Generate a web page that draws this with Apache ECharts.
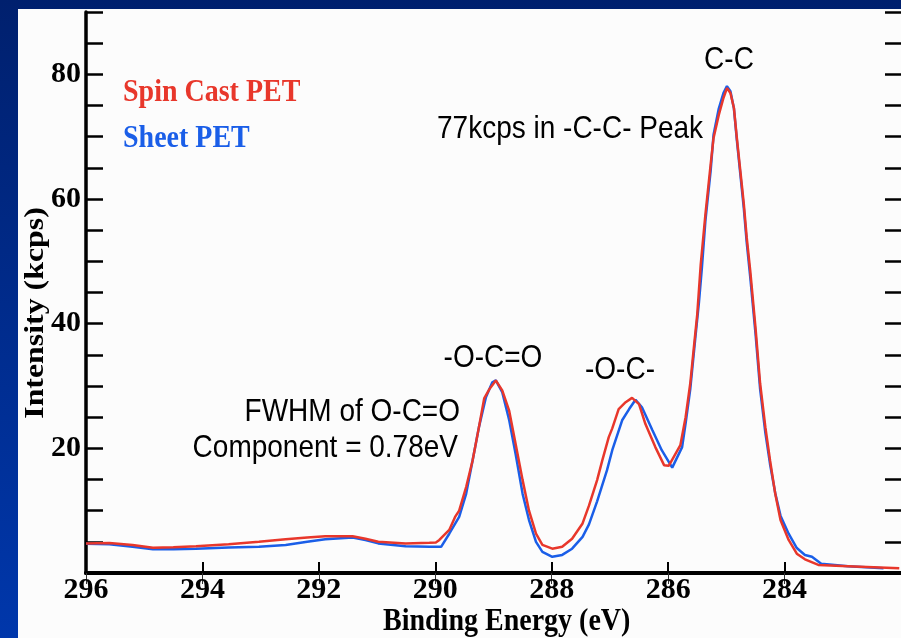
<!DOCTYPE html>
<html>
<head>
<meta charset="utf-8">
<script src="https://cdn.jsdelivr.net/npm/echarts@6/dist/echarts.min.js"></script>
<style>
html, body { margin: 0; padding: 0; }
body { width: 901px; height: 638px; background: linear-gradient(#00206e, #0037ab); overflow: hidden; position: relative; }
#panel { position: absolute; left: 18px; top: 9px; width: 883px; height: 629px; background: #fcfcfc; }
#mycharts { position: absolute; left: 0; top: 0; width: 901px; height: 638px; }
</style>
</head>
<body>
<div id="panel"></div>
<div id="mycharts"></div>
<script>
// 结合能 (eV) 与强度 (kcps)
var spinCastEv = [296.0, 295.6, 295.2, 294.85, 294.5, 294.11, 293.55, 293.03, 292.57, 292.2, 291.89, 291.42, 291.2, 290.98, 290.51, 290.1, 289.99, 289.93, 289.76, 289.66, 289.59, 289.47, 289.36, 289.25, 289.16, 289.07, 288.96, 288.85, 288.73, 288.62, 288.5, 288.39, 288.27, 288.16, 287.99, 287.82, 287.65, 287.47, 287.36, 287.22, 287.13, 287.02, 286.96, 286.85, 286.73, 286.62, 286.5, 286.39, 286.22, 286.07, 285.99, 285.79, 285.7, 285.62, 285.56, 285.5, 285.44, 285.36, 285.27, 285.22, 285.13, 285.05, 284.99, 284.93, 284.87, 284.82, 284.76, 284.7, 284.65, 284.59, 284.5, 284.42, 284.33, 284.25, 284.16, 284.07, 283.93, 283.79, 283.65, 283.42, 282.91, 282.03];
var spinCastKcps = [4.75, 4.8, 4.5, 4.05, 4.15, 4.3, 4.6, 5.0, 5.4, 5.7, 5.9, 5.9, 5.5, 5.0, 4.75, 4.85, 4.9, 5.3, 6.9, 9.0, 10.0, 13.8, 18.0, 23.4, 28.0, 29.5, 30.9, 29.3, 26.0, 20.7, 14.9, 10.0, 6.3, 4.5, 3.9, 4.2, 5.5, 7.95, 10.8, 14.9, 18.1, 21.8, 23.2, 26.3, 27.4, 28.1, 27.1, 23.9, 20.2, 17.3, 17.2, 20.5, 25.0, 30.4, 36.0, 41.5, 49.5, 57.5, 65.5, 69.8, 73.5, 76.2, 77.8, 77.0, 74.6, 69.8, 64.5, 59.2, 53.8, 48.5, 39.4, 30.4, 23.4, 18.1, 12.7, 8.5, 5.3, 3.1, 2.2, 1.3, 1.1, 0.75];
var sheetEv = [296.0, 295.6, 295.2, 294.85, 294.5, 294.11, 293.55, 293.03, 292.57, 292.2, 291.89, 291.42, 291.2, 290.98, 290.51, 290.1, 289.9, 289.76, 289.59, 289.47, 289.36, 289.25, 289.13, 289.02, 288.96, 288.85, 288.73, 288.62, 288.5, 288.39, 288.27, 288.16, 287.99, 287.82, 287.65, 287.47, 287.36, 287.22, 287.05, 286.96, 286.79, 286.67, 286.56, 286.45, 286.27, 286.11, 285.93, 285.76, 285.7, 285.62, 285.53, 285.47, 285.42, 285.36, 285.27, 285.22, 285.13, 285.05, 284.99, 284.93, 284.87, 284.82, 284.76, 284.7, 284.65, 284.59, 284.5, 284.42, 284.33, 284.25, 284.16, 284.07, 283.93, 283.79, 283.65, 283.53, 283.37, 282.91, 282.3];
var sheetKcps = [4.7, 4.6, 4.2, 3.8, 3.8, 3.9, 4.1, 4.2, 4.5, 5.0, 5.4, 5.7, 5.3, 4.75, 4.3, 4.2, 4.2, 6.3, 9.0, 12.7, 18.0, 23.4, 28.2, 30.6, 30.9, 29.0, 24.5, 19.1, 12.7, 8.5, 5.0, 3.4, 2.6, 2.9, 3.9, 5.8, 7.8, 11.5, 16.5, 19.7, 24.5, 26.3, 27.8, 26.6, 22.9, 19.7, 16.9, 20.2, 24.0, 29.5, 38.0, 43.5, 49.0, 56.5, 64.5, 70.3, 74.5, 77.0, 78.1, 77.3, 74.5, 69.5, 64.0, 58.5, 53.0, 47.5, 38.5, 29.5, 22.5, 17.5, 12.8, 9.2, 6.3, 4.0, 2.9, 2.6, 1.5, 1.1, 0.75];
var yTickLabels = [20, 40, 60, 80];

var redColor = '#e8372b';
var blueColor = '#1a5ee8';
var serif = '"Liberation Serif", "Times New Roman", serif';
var sans = '"Liberation Sans", Arial, sans-serif';

function pairs(xs, ys) {
	var out = [];
	for (var i = 0; i < xs.length; i++) {
		out.push([xs[i], ys[i]]);
	}
	return out;
}

// 图中注释文字
function note(text, x, y, align) {
	return {
		type: 'text', x: x, y: y, scaleY: 1.12,
		style: { text: text, font: '28px ' + sans, fill: '#000', align: align, verticalAlign: 'middle' }
	};
}

var myChart = echarts.init(document.getElementById('mycharts'), null, { renderer: 'canvas' });

myChart.setOption({
	animation: false,
	grid: { left: 86, top: 12, right: -2, bottom: 65 },
	xAxis: [{
		type: 'value', position: 'bottom', inverse: true,
		min: 282, max: 296, interval: 2,
		axisLine: { show: true, lineStyle: { color: '#000', width: 4 } },
		axisTick: { show: true, inside: true, length: 11, lineStyle: { color: '#000', width: 2 } },
		axisLabel: { show: true, showMinLabel: false, margin: 2, fontFamily: serif, fontWeight: 'bold', fontSize: 30, color: '#000' },
		splitLine: { show: false }
	}, {
		type: 'value', position: 'top', inverse: true,
		min: 282, max: 296, interval: 2,
		axisLine: { show: true, lineStyle: { color: '#000', width: 4 } },
		axisTick: { show: true, inside: true, length: 11, lineStyle: { color: '#333', width: 1 } },
		axisLabel: { show: false },
		splitLine: { show: false }
	}],
	yAxis: [{
		type: 'value', position: 'left',
		min: 0, max: 90, interval: 5,
		axisLine: { show: true, lineStyle: { color: '#000', width: 3.5 } },
		axisTick: { show: true, inside: true, length: 17, lineStyle: { color: '#000', width: 2.5 } },
		axisLabel: {
			margin: 5, fontFamily: serif, fontWeight: 'bold', fontSize: 30, color: '#000',
			formatter: function(v) { return yTickLabels.indexOf(v) >= 0 ? String(v) : ''; }
		},
		splitLine: { show: false }
	}, {
		type: 'value', position: 'right',
		min: 0, max: 90, interval: 5,
		axisLine: { show: false },
		axisTick: { show: true, inside: true, length: 16, lineStyle: { color: '#000', width: 2.5 } },
		axisLabel: { show: false },
		splitLine: { show: false }
	}],
	series: [{
		name: 'Sheet PET', type: 'line', xAxisIndex: 0, yAxisIndex: 0,
		data: pairs(sheetEv, sheetKcps), showSymbol: false, symbol: 'none',
		lineStyle: { color: blueColor, width: 2.5 }
	}, {
		name: 'Spin Cast PET', type: 'line', xAxisIndex: 0, yAxisIndex: 0,
		data: pairs(spinCastEv, spinCastKcps), showSymbol: false, symbol: 'none',
		lineStyle: { color: redColor, width: 2.5 }
	}],
	graphic: [
		{ type: 'text', x: 383, y: 622, scaleY: 1.12, style: { text: 'Binding Energy (eV)', font: 'bold 28px ' + serif, fill: '#000', verticalAlign: 'middle' } },
		{ type: 'text', x: 36, y: 313, rotation: Math.PI / 2, scaleX: 1.18, style: { text: 'Intensity (kcps)', font: 'bold 27px ' + serif, fill: '#000', align: 'center', verticalAlign: 'middle' } },
		{ type: 'text', x: 123, y: 93, scaleY: 1.1, style: { text: 'Spin Cast PET', font: 'bold 28px ' + serif, fill: redColor, verticalAlign: 'middle' } },
		{ type: 'text', x: 123, y: 139, scaleY: 1.1, style: { text: 'Sheet PET', font: 'bold 28px ' + serif, fill: blueColor, verticalAlign: 'middle' } },
		note('C-C', 729, 60, 'center'),
		note('77kcps in -C-C- Peak', 437, 129, 'left'),
		note('-O-C=O', 493, 358, 'center'),
		note('-O-C-', 620, 370, 'center'),
		note('FWHM of O-C=O', 460, 412, 'right'),
		note('Component = 0.78eV', 458, 448, 'right')
	]
});
</script>
</body>
</html>
